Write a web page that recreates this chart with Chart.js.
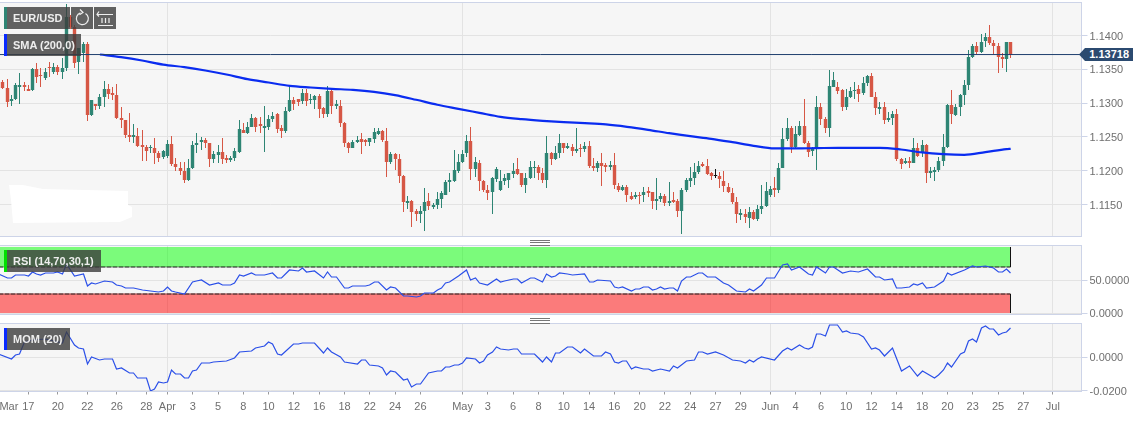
<!DOCTYPE html>
<html>
<head>
<meta charset="utf-8">
<title>EUR/USD</title>
<script src="https://cdn.jsdelivr.net/npm/chart.js@4"></script>
<style>
  body { margin: 0; background: #fff; font-family: "Liberation Sans", Arial, sans-serif; }
  #wrap { position: relative; width: 1139px; height: 422px; overflow: hidden; }
  canvas { position: absolute; left: 0; }
  .tag { position: absolute; left: 4px; height: 22px; line-height: 22px; background: rgba(60, 60, 60, 0.8);
    color: #eee; font-size: 11px; font-weight: bold; padding-left: 6px; box-sizing: border-box; border-left: 3px solid; }
  .btn { position: absolute; top: 7px; width: 22px; height: 22px; background: rgba(60, 60, 60, 0.8); }
  .grip { position: absolute; left: 530px; width: 20px; height: 4px; border-top: 1px solid #777; border-bottom: 1px solid #777; }
  .grip::after { content: ""; position: absolute; left: 0; right: 0; top: 1px; height: 1px; background: #777; }
  #mask { position: absolute; left: 0; top: 0; width: 140px; height: 230px; background: #fff;
    clip-path: polygon(9px 185px, 23px 185px, 43px 189px, 128px 191px, 128px 205px, 132px 207px, 132px 217px, 120px 222px, 13px 223px, 11px 200px); }
  #last { position: absolute; left: 1079px; top: 48px; width: 54px; height: 13px; line-height: 13px; background: #2b4a70;
    color: #fff; font-size: 11px; font-weight: bold; text-align: right; padding-right: 4px; box-sizing: border-box;
    clip-path: polygon(0 50%, 6px 0, 100% 0, 100% 100%, 6px 100%); }
</style>
</head>
<body>
<div id="wrap">
  <canvas id="main" width="1139" height="240" style="top:0"></canvas>
  <canvas id="rsi" width="1139" height="78" style="top:240px"></canvas>
  <canvas id="mom" width="1139" height="104" style="top:318px"></canvas>
  <div id="mask"></div>
  <div class="tag" style="top:7px;width:66px;border-color:#2e8574">EUR/USD</div>
  <div class="btn" style="left:71px">
    <svg width="22" height="22" fill="none" stroke="#eee" stroke-width="1.2"><path d="M14.5 6.5a6 6 0 1 1-5-.6"/><path d="M9 2.5l3 3-3.5 2.2"/></svg>
  </div>
  <div class="btn" style="left:94px">
    <svg width="22" height="22" fill="none" stroke="#eee" stroke-width="1.2"><path d="M3 7.5h16M4 18.5h15M8 11v5M11.5 11v5M15 11v5M5 4.5L3 7.5l2 2"/></svg>
  </div>
  <div class="tag" style="top:34px;width:77px;border-color:#0a2aff">SMA (200,0)</div>
  <div class="tag" style="top:250px;width:97px;border-color:#00e000">RSI (14,70,30,1)</div>
  <div class="tag" style="top:328px;width:66px;border-color:#0a2aff">MOM (20)</div>
  <div class="grip" style="top:240px"></div>
  <div class="grip" style="top:318px"></div>
  <div id="last">1.13718</div>
</div>
<script>
const opens = [
  1.13305,1.1323,1.13034,1.13068,1.1324,1.13265,1.13216,1.13191,1.13502,1.13413,
  1.13364,1.13537,1.13463,1.13537,1.13453,1.13522,1.14276,1.14128,1.13601,1.13734,
  1.13867,1.12822,1.12984,1.12955,1.13083,1.13216,1.13152,1.13127,1.12787,1.12748,
  1.12526,1.12501,1.12511,1.12378,1.12353,1.12343,1.12329,1.12265,1.12206,1.12216,
  1.12388,1.12092,1.12043,1.11993,1.1186,1.12033,1.12373,1.12423,1.12452,1.12413,
  1.12166,1.1223,1.1228,1.12191,1.12161,1.12181,1.1228,1.126,1.12551,1.12649,
  1.12782,1.12698,1.12639,1.12649,1.12758,1.12836,1.12625,1.1259,1.12886,1.13044,
  1.13054,1.13034,1.13152,1.13044,1.13044,1.13103,1.1293,1.12832,1.13177,1.12955,
  1.12955,1.12708,1.12403,1.12343,1.12427,1.12462,1.12452,1.12432,1.12472,1.12541,
  1.12585,1.12442,1.12122,1.1224,1.12166,1.11919,1.11525,1.1155,1.11402,1.11353,
  1.11402,1.11545,1.11461,1.11486,1.11589,1.11648,1.11836,1.1185,1.11998,1.12127,
  1.12255,1.12442,1.12023,1.12117,1.11846,1.11722,1.11678,1.11875,1.11713,1.11846,
  1.1187,1.11954,1.12018,1.11959,1.11782,1.11885,1.12038,1.12048,1.11969,1.1186,
  1.12265,1.12176,1.12255,1.12403,1.12338,1.12353,1.12289,1.12329,1.12314,1.12368,
  1.12068,1.12033,1.12117,1.12082,1.12058,1.12087,1.11777,1.11722,1.11762,1.11629,
  1.11604,1.11648,1.11639,1.11693,1.11678,1.1155,1.11579,1.11629,1.11525,1.11565,
  1.11555,1.11402,1.11708,1.11846,1.11885,1.11974,1.12097,1.12068,1.11959,1.11934,
  1.11924,1.11855,1.11762,1.11673,1.1153,1.11343,1.11358,1.11308,1.11382,1.11293,
  1.11431,1.11476,1.11634,1.11737,1.11722,1.12043,1.12462,1.12625,1.12353,1.12526,
  1.12664,1.12413,1.12289,1.12319,1.12935,1.12758,1.12625,1.13241,1.13231,1.13191,
  1.12935,1.13093,1.13177,1.13216,1.13152,1.1329,1.13394,1.13093,1.12915,1.12945,
  1.12743,1.12787,1.12832,1.12166,1.12107,1.12141,1.12117,1.12343,1.12255,1.12373,
  1.11959,1.11979,1.12008,1.12137,1.12353,1.12965,1.12822,1.12945,1.13113,1.1327,
  1.13684,1.13847,1.13758,1.13916,1.1398,1.13882,1.13847,1.13675,1.13645,1.13911,
];
const highs = [
  1.1334,1.1335,1.13118,1.1329,1.13448,1.13315,1.13265,1.13512,1.136,1.13512,
  1.13512,1.1361,1.13586,1.13561,1.1366,1.14473,1.143,1.14153,1.13818,1.13906,
  1.13906,1.13044,1.12994,1.13142,1.13325,1.1328,1.13231,1.1328,1.12945,1.12748,
  1.12861,1.12684,1.12625,1.126,1.12373,1.12378,1.12477,1.12294,1.12304,1.12452,
  1.12511,1.12181,1.12122,1.12132,1.12171,1.12437,1.12551,1.12501,1.12491,1.12413,
  1.1229,1.12378,1.12477,1.1223,1.12216,1.12329,1.12748,1.12713,1.12723,1.12846,
  1.12797,1.12797,1.1296,1.12822,1.12871,1.12856,1.12674,1.12945,1.13255,1.13093,
  1.13068,1.13216,1.13216,1.13142,1.13127,1.13142,1.12945,1.13251,1.13201,1.13044,
  1.13053,1.12723,1.12427,1.12452,1.12511,1.1256,1.12462,1.12491,1.12639,1.12639,
  1.126,1.12625,1.1228,1.12255,1.12245,1.11934,1.11629,1.11565,1.11441,1.11481,
  1.11737,1.11663,1.11516,1.11688,1.11698,1.1186,1.11969,1.12304,1.12245,1.12304,
  1.12526,1.12649,1.12196,1.12156,1.1186,1.11786,1.1191,1.12058,1.12008,1.11949,
  1.11969,1.12107,1.12181,1.11969,1.11959,1.12137,1.12137,1.12082,1.12033,1.12511,
  1.1228,1.12363,1.12536,1.12413,1.12413,1.12393,1.12634,1.12393,1.12427,1.12442,
  1.12181,1.12146,1.12255,1.12117,1.12141,1.12255,1.11821,1.11796,1.11796,1.11688,
  1.11688,1.11688,1.11762,1.11752,1.11688,1.11885,1.11673,1.11653,1.11826,1.11688,
  1.11579,1.11737,1.11885,1.12058,1.12107,1.12141,1.12122,1.12166,1.11984,1.12018,
  1.11984,1.11994,1.11811,1.11737,1.11604,1.11441,1.11441,1.11456,1.11417,1.11491,
  1.11796,1.11826,1.11772,1.1191,1.12107,1.12625,1.12787,1.12659,1.12659,1.12738,
  1.13068,1.12437,1.12353,1.13103,1.13004,1.12797,1.13487,1.13453,1.13305,1.13216,
  1.13206,1.1324,1.13315,1.13265,1.13389,1.13413,1.13438,1.13167,1.13019,1.13009,
  1.12871,1.12886,1.1291,1.12181,1.12181,1.12206,1.12477,1.12403,1.12452,1.12393,
  1.12048,1.12058,1.12206,1.12536,1.12994,1.13191,1.1298,1.13142,1.1334,1.13783,
  1.13872,1.13906,1.14015,1.14044,1.14153,1.13931,1.13891,1.13744,1.13911,1.13911,
];
const lows = [
  1.13216,1.12935,1.12955,1.13044,1.12994,1.13182,1.13172,1.13182,1.1329,1.1324,
  1.1334,1.13389,1.13428,1.13413,1.1335,1.13473,1.14103,1.13512,1.13428,1.13601,
  1.12733,1.12812,1.12896,1.1292,1.12935,1.13068,1.13044,1.12763,1.12625,1.12477,
  1.12427,1.12413,1.12353,1.12141,1.12146,1.12255,1.12092,1.12122,1.12166,1.12181,
  1.12072,1.11993,1.11934,1.11821,1.11846,1.12023,1.12255,1.12304,1.12329,1.12048,
  1.12117,1.12107,1.12097,1.12107,1.12136,1.12141,1.12255,1.12551,1.12541,1.12649,
  1.12575,1.12551,1.1228,1.126,1.12723,1.12551,1.12491,1.12565,1.12871,1.12896,
  1.1296,1.12984,1.1296,1.12984,1.1292,1.12787,1.12787,1.12797,1.12836,1.1291,
  1.12649,1.12353,1.12255,1.12329,1.12403,1.1224,1.12368,1.12368,1.12413,1.12526,
  1.12427,1.1191,1.12092,1.12008,1.11811,1.11392,1.11441,1.1117,1.11259,1.11229,
  1.11101,1.11417,1.11441,1.11441,1.11451,1.11638,1.11688,1.11836,1.11964,1.12107,
  1.12206,1.1186,1.1191,1.11703,1.11688,1.11565,1.11353,1.11836,1.11703,1.11786,
  1.11737,1.11885,1.11934,1.11762,1.11663,1.11875,1.11885,1.1186,1.11821,1.11737,
  1.12087,1.12156,1.12181,1.12265,1.12319,1.1222,1.12255,1.12206,1.1228,1.12033,
  1.11998,1.11974,1.11777,1.11974,1.12008,1.11727,1.11688,1.11703,1.1154,1.11565,
  1.11589,1.11506,1.1153,1.11614,1.11431,1.11412,1.1153,1.11481,1.11481,1.11516,
  1.11318,1.11057,1.11688,1.11762,1.11786,1.11949,1.12058,1.11934,1.1186,1.11885,
  1.11747,1.11688,1.11663,1.11515,1.11234,1.11269,1.1122,1.11155,1.11269,1.11259,
  1.11367,1.11466,1.11614,1.11604,1.11663,1.12033,1.12442,1.12255,1.12329,1.12511,
  1.12388,1.12196,1.12216,1.12008,1.12674,1.12565,1.12501,1.13231,1.13142,1.12886,
  1.12896,1.13078,1.13068,1.13009,1.13117,1.13251,1.13083,1.12822,1.12846,1.12689,
  1.12723,1.12674,1.12141,1.12018,1.12097,1.12033,1.12107,1.12206,1.12206,1.11811,
  1.11899,1.1185,1.11974,1.12072,1.12338,1.12698,1.12812,1.12812,1.1297,1.13191,
  1.13674,1.13719,1.13734,1.13832,1.13857,1.13719,1.13438,1.13522,1.13463,1.13674,
];
const closes = [
  1.13229,1.13019,1.13068,1.13265,1.13265,1.1324,1.13182,1.13502,1.13379,1.13398,
  1.13463,1.13512,1.13527,1.13453,1.13522,1.14276,1.14128,1.13596,1.13808,1.13867,
  1.12822,1.13044,1.12955,1.13083,1.13216,1.13142,1.13117,1.12787,1.12748,1.12526,
  1.12501,1.12526,1.12368,1.12353,1.12294,1.12353,1.12265,1.12186,1.12294,1.12388,
  1.12092,1.12058,1.11993,1.1186,1.12033,1.12378,1.12413,1.12452,1.12413,1.12166,
  1.1224,1.1228,1.12166,1.12156,1.12181,1.12294,1.1261,1.12551,1.12649,1.12773,
  1.12649,1.12659,1.12659,1.12758,1.12812,1.12615,1.1259,1.12886,1.13044,1.12994,
  1.13019,1.13152,1.13029,1.13068,1.13103,1.1292,1.12846,1.13177,1.12955,1.12994,
  1.12708,1.12403,1.12343,1.12432,1.12452,1.12427,1.12432,1.12482,1.12575,1.1259,
  1.12452,1.12122,1.1224,1.12166,1.11919,1.1153,1.1155,1.11392,1.11367,1.11407,
  1.1153,1.11481,1.11486,1.11589,1.11663,1.11836,1.1186,1.12008,1.12127,1.12245,
  1.12442,1.12023,1.12132,1.11846,1.11713,1.11673,1.11885,1.12023,1.1185,1.11885,
  1.11959,1.11998,1.11954,1.11782,1.11895,1.12048,1.12058,1.11969,1.1186,1.12265,
  1.12166,1.12255,1.12403,1.12343,1.12363,1.12294,1.12314,1.12314,1.12368,1.12072,
  1.12033,1.12117,1.12072,1.12058,1.12082,1.11786,1.11722,1.11762,1.11648,1.11589,
  1.11643,1.11629,1.11688,1.11668,1.1155,1.11579,1.11629,1.11516,1.11555,1.1153,
  1.11402,1.11708,1.1186,1.11885,1.11974,1.12072,1.12068,1.11949,1.1192,1.11934,
  1.11875,1.11772,1.11688,1.1153,1.11358,1.11372,1.11318,1.11382,1.11293,1.11427,
  1.11476,1.11703,1.11732,1.11713,1.12043,1.12462,1.12625,1.12353,1.12536,1.12664,
  1.12403,1.1228,1.12329,1.12935,1.12758,1.12625,1.13251,1.13339,1.13182,1.12935,
  1.13093,1.13182,1.13201,1.13142,1.1329,1.13394,1.13093,1.1293,1.12945,1.12748,
  1.12787,1.12832,1.12166,1.12097,1.12146,1.12117,1.12329,1.12216,1.12373,1.11959,
  1.11989,1.12008,1.12137,1.12353,1.12979,1.12832,1.12945,1.13113,1.1327,1.13684,
  1.13847,1.13758,1.13906,1.1398,1.13882,1.13847,1.13675,1.13645,1.13911,1.13718,
];
const lastPrice = 1.13718;

const smaPos = [23,28,33,38,43,48,53,58,63,68,73,78,83,88,93,98,103,108,113,118,123,128,133,138,143,148,153,158,163,168,173,178,183,188,193,198,203,208,213,218,223,228,233,238,239];
const smaValues = [1.13719,1.1368,1.1363,1.1357,1.13532,1.13482,1.13423,1.13354,1.13305,1.13255,1.13231,1.13211,1.13196,1.13167,1.13118,1.13049,1.12975,1.12915,1.12856,1.12797,1.12763,1.12738,1.12718,1.12703,1.12684,1.12649,1.12605,1.12555,1.12511,1.12472,1.12422,1.12368,1.12329,1.12329,1.12334,1.12339,1.12339,1.12339,1.12314,1.1227,1.12245,1.12235,1.12275,1.12319,1.12324];

const rsiPos = [-1,1,2,3,5,6,7,8,9,10,12,13,14,15,17,19,20,21,22,24,26,27,28,29,31,33,35,37,38,39,40,41,43,45,46,47,49,51,52,54,55,56,57,59,60,62,64,65,66,68,70,71,72,74,76,77,78,79,81,82,83,86,87,88,89,
  91,92,93,95,96,98,99,100,102,103,104,105,106,108,110,111,112,113,115,117,118,119,121,122,123,125,126,128,129,130,131,132,134,135,138,139,140,141,144,145,146,147,149,150,151,152,153,154,155,156,157,158,159,160,161,162,163,165,166,167,169,171,172,174,176,177,178,180,
  181,183,185,186,187,189,191,192,193,195,196,197,199,201,203,205,207,208,209,211,212,213,215,216,217,218,219,221,223,224,225,228,230,231,233,235,236,237,238,239];
const rsiValues = [59.6,53,54,58.1,57.6,56.1,62.1,59.1,58.6,60.6,61.1,62.6,60.1,74.2,56.1,60.1,41.9,45.5,44.4,49.5,47.5,42.9,41.9,38.9,37.9,35.4,34.3,31.8,33.8,39.9,34.3,32.8,29.8,48,49,50,42.4,46,42.9,43.4,46.5,57.6,56.1,61.6,57.6,57.6,61.6,53,53,65.2,64.6,68.2,62.1,63.6,53,62.1,55.6,54.5,38.9,38.9,41.9,41.9,42.9,47.5,47,
  35.4,39.4,37.9,26.8,26.3,24.2,26.3,31.3,31.3,35.4,38.9,46.5,47.5,57.1,65.2,50.5,53,45.5,42.4,52,48,48.5,52.5,51.5,45.5,53.5,53.5,48,59.6,55.6,56.6,61.6,60.1,58.1,59.6,48,47.5,50.5,48.5,39.4,37.9,39.4,34.3,36.9,36.9,40.4,40.4,35.9,37.4,40.4,36.9,38.9,38.9,33.8,49.5,54.5,55.6,61.6,61.6,55.6,54.5,46.5,42.9,33.8,32.8,36.9,33.8,42.9,
  53,54,73.2,75.3,65.7,70.2,59.1,58.6,69.7,61.6,70.2,70.2,60.6,64.6,63.1,66.7,55.1,54.5,50.5,52.5,38.9,37.9,39.4,44.4,43.4,46.5,38.9,39.9,49.5,61.1,58.1,65.7,72.2,69.7,72.2,68.7,62.6,62.1,66.7,61.6];

const momPos = [-1,2,3,4,5,7,10,14,15,17,18,19,20,21,23,24,26,27,28,30,31,32,34,35,36,37,38,39,40,41,42,43,44,45,46,47,49,50,53,55,56,59,60,62,63,64,65,66,69,70,71,74,76,77,78,80,81,84,85,86,87,89,
  90,91,92,93,95,96,97,98,99,101,103,104,105,106,107,108,109,110,112,113,114,115,116,117,118,120,121,122,123,126,127,128,129,130,131,132,134,135,137,138,140,142,143,144,145,146,147,148,149,150,152,153,154,156,158,159,160,162,164,165,166,167,169,171,173,175,176,177,178,179,
  180,183,185,186,187,189,190,191,192,193,194,195,196,198,199,200,201,203,204,206,207,208,209,211,213,215,217,218,221,222,223,224,225,227,228,229,230,231,232,233,234,235,236,237,238,239];
const momValues = [0.00198,-0.00099,0.00139,0.00198,0.00931,0.0103,0.01089,0.00832,0.01485,0.00733,0.00574,0.00495,-0.00396,0,-0.00178,-0.00079,-0.00099,-0.00693,-0.00653,-0.0095,-0.0095,-0.01208,-0.01208,-0.0198,-0.01901,-0.01445,-0.01505,-0.01485,-0.00772,-0.0099,-0.0097,-0.01247,-0.01208,-0.00812,-0.00733,-0.00356,-0.00356,-0.00277,-0.00218,-0.0002,0.00317,0.00396,0.00535,0.00653,0.00891,0.00812,0.00198,0.00158,0.00812,0.00772,0.00871,0.00871,0.00238,0.00574,0.00297,0.0004,-0.00277,-0.00376,-0.00178,-0.00178,-0.00436,-0.00495,
  -0.00614,-0.01049,-0.00812,-0.00871,-0.01366,-0.01307,-0.01782,-0.01604,-0.01564,-0.00911,-0.00832,-0.00812,-0.00594,-0.00594,-0.00475,-0.00436,-0.00337,-0.0002,-0.00099,-0.00337,-0.00218,0.00139,0.00337,0.00594,0.00515,0.00436,0.00515,0.00475,0.00198,0.00178,-0.0004,-0.00297,0,-0.00297,0.00238,0.00238,0.00614,0.00614,0.00277,0.00495,0.00079,0.00099,0.00297,0.00218,-0.00277,-0.00317,-0.00218,-0.00218,-0.00713,-0.00554,-0.00713,-0.00713,-0.00832,-0.00693,-0.00832,-0.00535,-0.00634,-0.00238,-0.00139,0.00297,0.00317,0.00178,0.00337,0.00139,-0.00158,-0.00238,-0.00356,-0.00158,-0.00277,-0.00079,
  0.0004,-0.00178,0.00396,0.00535,0.00416,0.00713,0.00535,0.00515,0.00634,0.01386,0.01386,0.01267,0.01921,0.01921,0.01485,0.01584,0.01465,0.01406,0.01208,0.00475,0.00535,0.00436,0.00059,0.00554,-0.00832,-0.00535,-0.01129,-0.00812,-0.01208,-0.01049,-0.00752,-0.00317,-0.00574,0.00198,0.00337,0.0097,0.01069,0.00891,0.01723,0.01861,0.01703,0.01683,0.01346,0.01426,0.01525,0.01723];

const tickPos = [1.4,6,13,20,27,34,39,45,51,57,63,69,75,81,87,93,99,109,115,121,127,133,139,145,151,157,163,169,175,182,188,194,200,206,212,218,224,230,236,242,249];
const tickLabels = ["Mar","17","20","22","26","28","Apr","3","5","8","10","12","16","18","22","24","26","May","3","6","8","10","14","16","20","22","24","27","29","Jun","4","6","10","12","14","18","20","23","25","27","Jul"];
const monthLabels = ["Apr","May","Jun","Jul"];
const priceTicks = [1.115,1.12,1.125,1.13,1.135,1.14];
const rsiTicks = [0,50];
const momTicks = [-0.02,0];

const xMin = -0.71;
const xMax = 255.8;
const up = "#2e8574";
const down = "#d65745";
const blue = "#2a4fe8";

Chart.defaults.font.family = '"Liberation Sans", Arial, sans-serif';
Chart.defaults.font.size = 11;
Chart.defaults.color = "#6f6f6f";

// panel background and border, plus snapping the candles to whole pixels
const panelPlugin = {
  id: "panel",
  beforeDraw(chart) {
    let a = chart.chartArea;
    chart.ctx.fillStyle = "#f6f6f6";
    chart.ctx.fillRect(a.left, a.top, a.right - a.left, a.bottom - a.top);
  },
  beforeDatasetsDraw(chart) {
    chart.data.datasets.forEach((ds, i) => {
      if (ds.type === "line") return;
      chart.getDatasetMeta(i).data.forEach((el) => {
        el.x = Math.floor(el.x) + 0.5;
        el.y = Math.round(el.y);
        el.base = Math.round(el.base);
        if (Math.abs(el.base - el.y) < 1) el.base = el.y + 1;
      });
    });
  },
  afterDraw(chart) {
    let a = chart.chartArea;
    chart.ctx.strokeStyle = "#cdd4e8";
    chart.ctx.lineWidth = 1;
    chart.ctx.strokeRect(a.left - 2, a.top, a.right - a.left + 2, a.bottom - a.top);
  },
};

function linePoints(pos, values) {
  return pos.map((x, i) => ({ x: x, y: values[i] }));
}

function panelOptions(yMin, yMax, yTicks, paddingTop, paddingBottom, xHeight, showLabels) {
  return {
    responsive: false,
    animation: false,
    events: [],
    layout: { padding: { left: 0, right: 0, top: paddingTop, bottom: paddingBottom } },
    plugins: { legend: { display: false }, tooltip: { enabled: false } },
    scales: {
      x: {
        type: "linear",
        min: xMin,
        max: xMax,
        offset: false,
        afterBuildTicks(scale) {
          scale.ticks = tickPos.map((v) => ({ value: v }));
        },
        afterFit(scale) {
          scale.height = xHeight;
          scale.paddingLeft = 0;
          scale.paddingRight = 0;
        },
        border: { display: false },
        grid: {
          offset: false,
          drawTicks: showLabels,
          tickLength: 3,
          color: (ctx) => monthLabels.includes(tickLabels[ctx.index]) ? "#e3e3e3" : "transparent",
          tickColor: (ctx) => tickLabels[ctx.index] === "Mar" ? "transparent" : "#999",
        },
        ticks: {
          display: showLabels,
          autoSkip: false,
          maxRotation: 0,
          padding: 6,
          callback: (v, i) => tickLabels[i],
        },
      },
      y: {
        position: "right",
        min: yMin,
        max: yMax,
        afterBuildTicks(scale) {
          scale.ticks = yTicks.map((v) => ({ value: v }));
        },
        afterFit(scale) {
          scale.width = 57.5;
          scale.paddingTop = 0;
          scale.paddingBottom = 0;
        },
        border: { display: false },
        grid: { color: "#e3e3e3", tickColor: "#cdd4e8", tickLength: 6 },
        ticks: { padding: 2, labelOffset: 1, callback: (v) => v.toFixed(4) },
      },
    },
  };
}

new Chart(document.querySelector("#main"), {
  type: "bar",
  data: {
    datasets: [
      {
        type: "line",
        data: linePoints([xMin, xMax], [lastPrice, lastPrice]),
        borderColor: "#1f3f6e",
        borderWidth: 1,
        pointRadius: 0,
        order: 0,
      },
      {
        type: "line",
        data: linePoints(smaPos, smaValues),
        borderColor: "#0a2cf0",
        borderWidth: 2.2,
        pointRadius: 0,
        cubicInterpolationMode: "monotone",
        order: 1,
      },
      {
        data: opens.map((o, i) => ({ x: i, y: [o, closes[i]] })),
        backgroundColor: opens.map((o, i) => closes[i] === o ? "#111" : closes[i] > o ? up : down),
        barThickness: 3.4,
        grouped: false,
        inflateAmount: 0,
        order: 2,
      },
      {
        data: lows.map((l, i) => ({ x: i, y: [l, highs[i]] })),
        backgroundColor: opens.map((o, i) => closes[i] === o ? "#111" : closes[i] > o ? up : down),
        barThickness: 1,
        grouped: false,
        inflateAmount: 0,
        order: 3,
      },
    ],
  },
  options: panelOptions(1.11027, 1.14488, priceTicks, 2.5, 3.5, 0, false),
  plugins: [panelPlugin],
});

new Chart(document.querySelector("#rsi"), {
  type: "line",
  data: {
    datasets: [
      {
        data: linePoints(rsiPos, rsiValues),
        borderColor: blue,
        borderWidth: 1.2,
        pointRadius: 0,
        order: 0,
      },
      {
        data: linePoints([-1, 239, 239], [70, 70, 100]),
        borderColor: "#111",
        borderWidth: 1,
        pointRadius: 0,
        segment: { borderDash: (ctx) => ctx.p0DataIndex === 0 ? [5, 1] : undefined },
        order: 1,
      },
      {
        data: linePoints([-1, 239, 239], [30, 30, 0]),
        borderColor: "#111",
        borderWidth: 1,
        pointRadius: 0,
        segment: { borderDash: (ctx) => ctx.p0DataIndex === 0 ? [5, 1] : undefined },
        order: 1,
      },
      {
        data: linePoints([-1, 239], [100, 100]),
        borderWidth: 0,
        pointRadius: 0,
        fill: { target: { value: 70 }, above: "rgba(0, 255, 0, 0.5)", below: "rgba(0, 255, 0, 0.5)" },
        order: 2,
      },
      {
        data: linePoints([-1, 239], [0, 0]),
        borderWidth: 0,
        pointRadius: 0,
        fill: { target: { value: 30 }, above: "rgba(255, 0, 0, 0.5)", below: "rgba(255, 0, 0, 0.5)" },
        order: 2,
      },
    ],
  },
  options: panelOptions(-1.8, 102.7, rsiTicks, 5.5, 3.5, 0, false),
  plugins: [panelPlugin],
});

new Chart(document.querySelector("#mom"), {
  type: "line",
  data: {
    datasets: [
      {
        data: linePoints(momPos, momValues),
        borderColor: blue,
        borderWidth: 1.2,
        pointRadius: 0,
      },
    ],
  },
  options: panelOptions(-0.02031, 0.02008, momTicks, 5.5, 0, 30.5, true),
  plugins: [panelPlugin],
});
</script>
</body>
</html>
